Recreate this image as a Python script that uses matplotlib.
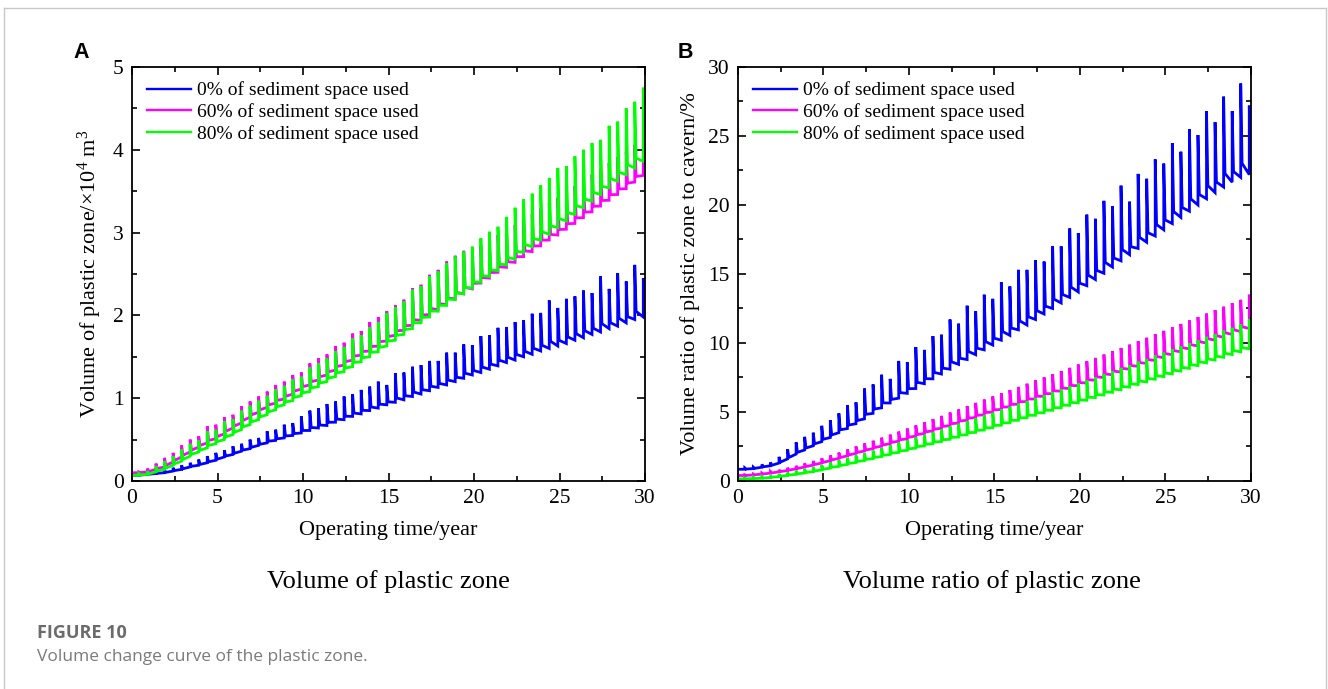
import numpy as np
import matplotlib
matplotlib.use("Agg")
import matplotlib.pyplot as plt
from matplotlib.ticker import MultipleLocator
from matplotlib.lines import Line2D

plt.rcParams['font.family'] = ['Liberation Serif', 'DejaVu Serif']
plt.rcParams['mathtext.fontset'] = 'custom'
plt.rcParams['mathtext.rm'] = 'Liberation Serif'
plt.rcParams['mathtext.it'] = 'Liberation Serif:italic'

# one injection/production spike every half year
n_spikes = 60
t_spike = 0.4 + 0.5 * np.arange(n_spikes)

labels = ['0% of sediment space used', '60% of sediment space used', '80% of sediment space used']
colors = ['#0000ff', '#ff00ff', '#00ff00']

# panel A: volume of plastic zone (x10^4 m^3), trough and spike-top values
a_blue_lo = [0.07,0.08,0.09,0.10,0.12,0.14,0.17,0.19,0.22,0.25,
             0.29,0.32,0.36,0.39,0.43,0.46,0.49,0.52,0.55,0.58,
             0.61,0.64,0.67,0.71,0.74,0.78,0.81,0.85,0.88,0.92,
             0.95,0.98,1.02,1.05,1.09,1.13,1.16,1.20,1.24,1.28,
             1.31,1.35,1.39,1.43,1.46,1.50,1.53,1.57,1.60,1.63,
             1.66,1.70,1.73,1.77,1.80,1.84,1.87,1.91,1.95,1.98]
a_blue_hi = [0.08,0.09,0.11,0.13,0.16,0.19,0.22,0.26,0.30,0.34,
             0.37,0.42,0.45,0.50,0.52,0.60,0.62,0.68,0.70,0.78,
             0.85,0.88,0.93,0.96,1.02,1.05,1.10,1.14,1.20,1.16,
             1.30,1.31,1.38,1.40,1.45,1.45,1.55,1.55,1.65,1.64,
             1.75,1.76,1.85,1.86,1.92,1.94,2.02,2.03,2.18,2.09,
             2.20,2.23,2.30,2.27,2.47,2.32,2.51,2.41,2.61,2.45]
a_mag_lo = [0.10,0.11,0.14,0.17,0.23,0.29,0.35,0.41,0.46,0.51,
            0.57,0.64,0.70,0.77,0.83,0.89,0.94,0.99,1.05,1.11,
            1.16,1.22,1.28,1.34,1.40,1.46,1.52,1.57,1.63,1.69,
            1.76,1.82,1.88,1.94,2.01,2.07,2.13,2.20,2.26,2.32,
            2.39,2.45,2.52,2.58,2.64,2.71,2.77,2.84,2.91,2.97,
            3.04,3.11,3.18,3.25,3.32,3.39,3.46,3.53,3.61,3.69]
a_mag_hi = [0.11,0.15,0.21,0.28,0.34,0.43,0.50,0.54,0.66,0.68,
            0.77,0.80,0.90,0.96,1.02,1.08,1.16,1.20,1.28,1.31,
            1.42,1.48,1.53,1.63,1.67,1.78,1.81,1.92,1.98,2.05,
            2.12,2.19,2.33,2.37,2.49,2.55,2.65,2.72,2.78,2.77,
            2.84,2.90,2.97,3.03,3.09,3.16,3.22,3.29,3.36,3.42,
            3.49,3.56,3.63,3.70,3.77,3.84,3.91,3.98,4.06,4.14]
a_grn_lo = [0.07,0.08,0.11,0.14,0.19,0.24,0.30,0.35,0.40,0.45,
            0.50,0.56,0.62,0.68,0.74,0.80,0.86,0.92,0.97,1.03,
            1.08,1.14,1.20,1.26,1.32,1.38,1.44,1.50,1.56,1.63,
            1.70,1.77,1.84,1.91,1.98,2.05,2.12,2.19,2.26,2.33,
            2.40,2.47,2.54,2.61,2.68,2.76,2.83,2.91,2.98,3.06,
            3.14,3.22,3.30,3.38,3.46,3.54,3.62,3.70,3.78,3.86]
a_grn_hi = [0.09,0.12,0.18,0.24,0.30,0.38,0.45,0.49,0.60,0.62,
            0.72,0.75,0.85,0.91,0.97,1.03,1.11,1.15,1.23,1.26,
            1.37,1.42,1.48,1.57,1.62,1.72,1.76,1.86,1.92,2.03,
            2.10,2.17,2.31,2.35,2.47,2.53,2.63,2.71,2.77,2.83,
            2.93,3.01,3.07,3.19,3.30,3.40,3.47,3.57,3.66,3.78,
            3.80,3.92,4.00,4.08,4.12,4.29,4.34,4.50,4.58,4.75]

# panel B: volume ratio of plastic zone to cavern (%)
b_blue_lo = [0.85,0.90,1.00,1.10,1.30,1.60,1.95,2.25,2.55,2.85,
             3.15,3.50,3.80,4.15,4.50,4.90,5.30,5.65,6.00,6.35,
             6.70,7.05,7.40,7.75,8.10,8.45,8.80,9.15,9.50,9.85,
             10.20,10.55,10.95,11.30,11.70,12.10,12.50,12.90,13.30,13.70,
             14.15,14.60,15.05,15.50,15.95,16.40,16.85,17.30,17.75,18.20,
             18.65,19.10,19.55,20.00,20.45,20.90,21.30,21.65,22.00,22.20]
b_blue_hi = [0.95,1.00,1.20,1.35,1.75,2.30,2.80,3.20,3.50,4.00,
             4.40,4.90,5.50,5.70,6.70,7.00,7.70,7.40,8.70,8.60,
             9.70,9.50,10.50,10.60,11.70,11.40,12.70,12.30,13.50,13.20,
             14.40,14.10,15.30,15.30,16.00,15.90,17.00,17.00,18.30,17.95,
             19.30,19.00,20.30,19.90,21.40,20.24,22.25,21.90,23.30,23.00,
             24.47,23.86,25.50,25.07,26.80,26.00,27.85,26.80,28.80,27.20]
b_mag_lo = [0.40,0.44,0.50,0.57,0.66,0.76,0.88,1.01,1.15,1.30,
            1.47,1.64,1.82,2.00,2.17,2.34,2.52,2.70,2.88,3.06,
            3.25,3.44,3.63,3.82,4.01,4.20,4.40,4.60,4.80,4.99,
            5.18,5.37,5.56,5.75,5.94,6.13,6.32,6.51,6.70,6.90,
            7.10,7.30,7.50,7.70,7.90,8.10,8.31,8.52,8.73,8.94,
            9.15,9.36,9.57,9.78,9.99,10.20,10.41,10.62,10.83,11.05]
b_mag_hi = [0.45,0.50,0.58,0.69,0.81,0.96,1.10,1.28,1.45,1.65,
            1.85,2.06,2.28,2.50,2.72,2.92,3.14,3.36,3.58,3.80,
            4.03,4.26,4.49,4.72,4.96,5.18,5.42,5.66,5.90,6.13,
            6.36,6.59,6.82,7.05,7.29,7.51,7.74,7.97,8.20,8.44,
            8.68,8.92,9.16,9.40,9.64,9.88,10.13,10.38,10.63,10.88,
            11.13,11.38,11.63,11.88,12.13,12.38,12.63,12.88,13.13,13.50]
b_grn_lo = [0.15,0.17,0.20,0.25,0.32,0.40,0.48,0.58,0.68,0.80,
            0.93,1.06,1.20,1.34,1.48,1.62,1.77,1.92,2.07,2.22,
            2.38,2.54,2.70,2.86,3.02,3.18,3.35,3.52,3.69,3.86,
            4.04,4.22,4.40,4.58,4.76,4.94,5.12,5.30,5.48,5.66,
            5.85,6.04,6.23,6.42,6.61,6.80,6.99,7.18,7.37,7.56,
            7.76,7.96,8.16,8.36,8.56,8.76,8.96,9.16,9.36,9.58]
b_grn_hi = [0.20,0.25,0.30,0.40,0.50,0.62,0.75,0.88,1.00,1.15,
            1.35,1.50,1.68,1.85,2.02,2.20,2.40,2.58,2.78,2.96,
            3.15,3.35,3.55,3.75,3.95,4.15,4.35,4.55,4.75,4.95,
            5.18,5.38,5.60,5.80,6.02,6.22,6.45,6.65,6.88,7.08,
            7.32,7.52,7.76,7.96,8.20,8.40,8.65,8.85,9.10,9.30,
            9.55,9.75,10.00,10.20,10.45,10.65,10.90,11.10,11.35,11.70]


def comb(lo, hi):
    # trough -> vertical spike -> quick fall -> creep to next trough
    xs, ys = [0.0], [lo[0]]
    for i, t in enumerate(t_spike):
        xs += [t, t, t + 0.08]
        ys += [lo[i], hi[i], lo[i] + 0.15 * (hi[i] - lo[i])]
    xs.append(30.2)
    ys.append(lo[-1])
    return xs, ys


fig = plt.figure(figsize=(13.28, 6.89), dpi=100)
axA = fig.add_axes([0.0994, 0.3019, 0.3863, 0.6009])
axB = fig.add_axes([0.5557, 0.3019, 0.3863, 0.6009])

panels = [
    (axA, [(a_blue_lo, a_blue_hi), (a_mag_lo, a_mag_hi), (a_grn_lo, a_grn_hi)],
     5, 1, 0.5, 'Volume of plastic zone/\u00d710$^4$ m$^3$'),
    (axB, [(b_blue_lo, b_blue_hi), (b_mag_lo, b_mag_hi), (b_grn_lo, b_grn_hi)],
     30, 5, 2.5, 'Volume ratio of plastic zone to cavern/%'),
]

for ax, series, ymax, ymaj, ymin, ylab in panels:
    for (lo, hi), c, lab in zip(series, colors, labels):
        xs, ys = comb(lo, hi)
        ax.plot(xs, ys, color=c, lw=2.0, label=lab, solid_joinstyle='miter')
    ax.set_xlim(0, 30)
    ax.set_ylim(0, ymax)
    ax.xaxis.set_major_locator(MultipleLocator(5))
    ax.xaxis.set_minor_locator(MultipleLocator(2.5))
    ax.yaxis.set_major_locator(MultipleLocator(ymaj))
    ax.yaxis.set_minor_locator(MultipleLocator(ymin))
    ax.tick_params(which='both', direction='in', top=True, right=True, width=1.2,
                   labelsize=15.5, pad=6)
    ax.tick_params(which='major', length=6)
    ax.tick_params(which='minor', length=3.5)
    for s in ax.spines.values():
        s.set_linewidth(1.3)
    ax.set_xlabel('Operating time/year', fontsize=16, labelpad=9)
    ax.set_ylabel(ylab, fontsize=16, labelpad=6)
    leg = ax.legend(loc='upper left', frameon=False, fontsize=14, handlelength=2.3,
                    handletextpad=0.28, labelspacing=0.2, borderpad=0, borderaxespad=0.75)
    for h in leg.get_lines():
        h.set_linewidth(1.7)

fig.text(0.061, 0.9245, 'A', fontsize=15.5, fontweight='bold', family='Liberation Sans',
         ha='center', va='center')
fig.text(0.516, 0.9245, 'B', fontsize=15.5, fontweight='bold', family='Liberation Sans',
         ha='center', va='center')

fig.text(0.2922, 0.1553, 'Volume of plastic zone', fontsize=19, ha='center', va='center')
fig.text(0.747, 0.1553, 'Volume ratio of plastic zone', fontsize=19, ha='center', va='center')

fig.text(0.0279, 0.0813, 'FIGURE 10', fontsize=13, fontweight='bold', family='Open Sans',
         color='#6b6b6b', ha='left', va='center')
fig.text(0.0279, 0.0464, 'Volume change curve of the plastic zone.', fontsize=12.5,
         family='Open Sans', color='#7a7a7a', ha='left', va='center')

# thin frame around the figure block
frame = '#c8c8c8'
fig.add_artist(Line2D([0.003, 0.003], [0.0, 0.988], transform=fig.transFigure, color=frame, lw=1))
fig.add_artist(Line2D([0.003, 0.9985], [0.988, 0.988], transform=fig.transFigure, color=frame, lw=1))
fig.add_artist(Line2D([0.9985, 0.9985], [0.0, 0.988], transform=fig.transFigure, color=frame, lw=1))

fig.savefig('out.png', dpi=100)
